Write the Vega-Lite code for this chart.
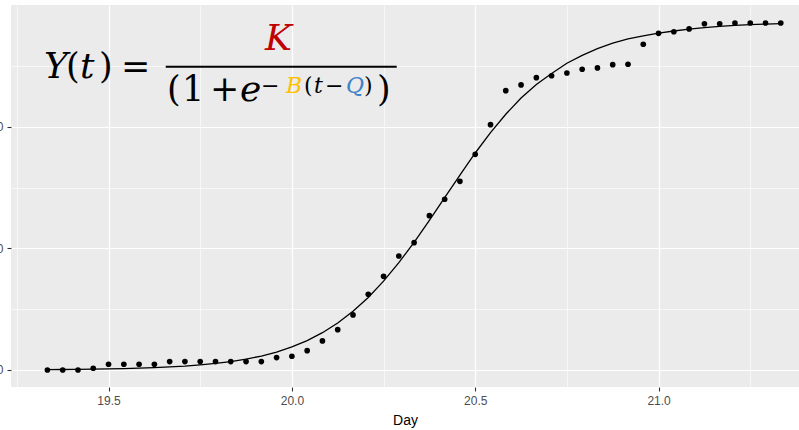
{
  "$schema": "https://vega.github.io/schema/vega-lite/v6.json",
  "width": 788,
  "height": 382,
  "autosize": {"type": "none"},
  "padding": {"left": 11, "top": 5, "right": 0, "bottom": 43},
  "background": "white",
  "config": {
    "view": {"fill": "#EBEBEB", "stroke": null},
    "axis": {
      "domain": false,
      "tickColor": "#333333",
      "tickSize": 4,
      "tickWidth": 1.1,
      "labelColor": "#4D4D4D",
      "labelFont": "Liberation Sans",
      "labelFontSize": 12,
      "titleFont": "Liberation Sans",
      "titleFontSize": 14,
      "titleFontWeight": "normal",
      "titleColor": "#000000",
      "gridColor": "#FFFFFF"
    }
  },
  "datasets": {
    "obs": [
      {"day": 19.3333, "count": 0.0, "fit": 0.3},
      {"day": 19.375, "count": 0.0, "fit": 0.4},
      {"day": 19.4167, "count": 0.0, "fit": 0.5},
      {"day": 19.4583, "count": 1.4, "fit": 0.7},
      {"day": 19.5, "count": 4.7, "fit": 0.9},
      {"day": 19.5417, "count": 4.7, "fit": 1.1},
      {"day": 19.5833, "count": 4.7, "fit": 1.5},
      {"day": 19.625, "count": 4.7, "fit": 1.9},
      {"day": 19.6667, "count": 6.9, "fit": 2.5},
      {"day": 19.7083, "count": 6.9, "fit": 3.2},
      {"day": 19.75, "count": 6.9, "fit": 4.2},
      {"day": 19.7917, "count": 6.9, "fit": 5.4},
      {"day": 19.8333, "count": 6.9, "fit": 6.9},
      {"day": 19.875, "count": 6.9, "fit": 9.0},
      {"day": 19.9167, "count": 6.9, "fit": 11.5},
      {"day": 19.9583, "count": 10.2, "fit": 14.8},
      {"day": 20.0, "count": 11.3, "fit": 19.0},
      {"day": 20.0417, "count": 15.9, "fit": 24.2},
      {"day": 20.0833, "count": 23.9, "fit": 30.7},
      {"day": 20.125, "count": 33.2, "fit": 38.6},
      {"day": 20.1667, "count": 45.3, "fit": 48.3},
      {"day": 20.2083, "count": 62.3, "fit": 59.7},
      {"day": 20.25, "count": 77.1, "fit": 73.1},
      {"day": 20.2917, "count": 93.8, "fit": 88.3},
      {"day": 20.3333, "count": 104.8, "fit": 105.1},
      {"day": 20.375, "count": 127.0, "fit": 123.1},
      {"day": 20.4167, "count": 140.5, "fit": 141.8},
      {"day": 20.4583, "count": 155.3, "fit": 160.4},
      {"day": 20.5, "count": 177.5, "fit": 178.6},
      {"day": 20.5417, "count": 201.9, "fit": 195.3},
      {"day": 20.5833, "count": 229.9, "fit": 210.5},
      {"day": 20.625, "count": 234.6, "fit": 223.8},
      {"day": 20.6667, "count": 240.6, "fit": 235.0},
      {"day": 20.7083, "count": 242.2, "fit": 244.0},
      {"day": 20.75, "count": 244.4, "fit": 252.5},
      {"day": 20.7917, "count": 247.5, "fit": 259.0},
      {"day": 20.8333, "count": 248.6, "fit": 264.5},
      {"day": 20.875, "count": 251.3, "fit": 269.0},
      {"day": 20.9167, "count": 251.6, "fit": 272.5},
      {"day": 20.9583, "count": 268.1, "fit": 275.0},
      {"day": 21.0, "count": 277.1, "fit": 277.2},
      {"day": 21.0417, "count": 278.4, "fit": 279.0},
      {"day": 21.0833, "count": 280.7, "fit": 280.5},
      {"day": 21.125, "count": 285.0, "fit": 281.8},
      {"day": 21.1667, "count": 285.0, "fit": 282.8},
      {"day": 21.2083, "count": 285.6, "fit": 283.6},
      {"day": 21.25, "count": 285.6, "fit": 284.2},
      {"day": 21.2917, "count": 285.6, "fit": 284.7},
      {"day": 21.3333, "count": 285.6, "fit": 285.0}
    ],
    "bigItalic": [
      {"day": 19.3241, "val": 240.3, "t": "Y", "term": "o"},
      {"day": 19.4223, "val": 240.3, "t": "t", "term": "o"},
      {"day": 19.9268, "val": 263.4, "t": "K", "term": "K"},
      {"day": 19.8586, "val": 221.4, "t": "e", "term": "o"}
    ],
    "bigUpright": [
      {"day": 19.3841, "val": 240.3, "t": "("},
      {"day": 19.474, "val": 240.3, "t": ")"},
      {"day": 19.5341, "val": 240.3, "t": "="},
      {"day": 19.6596, "val": 221.4, "t": "("},
      {"day": 19.7005, "val": 221.4, "t": "1"},
      {"day": 19.7768, "val": 221.4, "t": "+"},
      {"day": 20.2322, "val": 221.4, "t": ")"}
    ],
    "supItalic": [
      {"day": 19.984, "val": 228.0, "t": "B", "term": "B"},
      {"day": 20.0604, "val": 228.0, "t": "t", "term": "o"},
      {"day": 20.1477, "val": 228.0, "t": "Q", "term": "Q"}
    ],
    "supUpright": [
      {"day": 19.9159, "val": 228.0, "t": "−"},
      {"day": 20.0332, "val": 228.0, "t": "("},
      {"day": 20.0904, "val": 228.0, "t": "−"},
      {"day": 20.1968, "val": 228.0, "t": ")"}
    ],
    "bar": [
      {"day": 19.656, "day2": 20.2859, "val": 249.6}
    ]
  },
  "layer": [
    {
      "data": {"name": "obs"},
      "mark": {"type": "line", "color": "#000000", "strokeWidth": 1.3},
      "encoding": {
        "x": {
          "field": "day", "type": "quantitative",
          "scale": {"domain": [19.234, 21.383], "nice": false, "zero": false},
          "axis": {"orient": "top", "values": [19.25, 19.75, 20.25, 20.75, 21.25], "grid": true, "gridWidth": 0.6, "ticks": false, "labels": false, "domain": false, "title": null}
        },
        "y": {
          "field": "fit", "type": "quantitative",
          "scale": {"domain": [-14.0, 300.4], "nice": false, "zero": false},
          "axis": {"orient": "right", "values": [50, 150, 250], "grid": true, "gridWidth": 0.6, "ticks": false, "labels": false, "domain": false, "title": null}
        }
      }
    },
    {
      "data": {"name": "obs"},
      "mark": {"type": "point", "filled": true, "color": "#000000", "size": 32, "opacity": 1},
      "encoding": {
        "x": {
          "field": "day", "type": "quantitative",
          "scale": {"domain": [19.234, 21.383], "nice": false, "zero": false},
          "axis": {"orient": "bottom", "values": [19.5, 20.0, 20.5, 21.0], "format": ".1f", "grid": true, "gridWidth": 1.2, "labelPadding": 4, "title": "Day", "titlePadding": 7}
        },
        "y": {
          "field": "count", "type": "quantitative",
          "scale": {"domain": [-14.0, 300.4], "nice": false, "zero": false},
          "axis": {"orient": "left", "values": [0, 100, 200], "grid": true, "gridWidth": 1.2, "labelPadding": 4, "title": null}
        }
      }
    },
    {
      "data": {"name": "bar"},
      "mark": {"type": "rule", "color": "#000000", "strokeWidth": 2},
      "encoding": {
        "x": {"field": "day", "type": "quantitative", "axis": null, "scale": {"domain": [19.234, 21.383], "nice": false, "zero": false}},
        "x2": {"field": "day2"},
        "y": {"field": "val", "type": "quantitative", "axis": null, "scale": {"domain": [-14.0, 300.4], "nice": false, "zero": false}}
      }
    },
    {
      "data": {"name": "bigItalic"},
      "mark": {"type": "text", "font": "DejaVu Serif", "fontStyle": "italic", "fontSize": 36, "align": "left", "baseline": "alphabetic"},
      "encoding": {
        "x": {"field": "day", "type": "quantitative", "axis": null, "scale": {"domain": [19.234, 21.383], "nice": false, "zero": false}},
        "y": {"field": "val", "type": "quantitative", "axis": null, "scale": {"domain": [-14.0, 300.4], "nice": false, "zero": false}},
        "text": {"field": "t"},
        "color": {"field": "term", "type": "nominal", "legend": null, "scale": {"domain": ["K", "B", "Q", "o"], "range": ["#C00000", "#FFC000", "#3E82C8", "#000000"]}}
      }
    },
    {
      "data": {"name": "bigUpright"},
      "mark": {"type": "text", "font": "DejaVu Serif", "fontSize": 35, "align": "left", "baseline": "alphabetic", "color": "#000000"},
      "encoding": {
        "x": {"field": "day", "type": "quantitative", "axis": null, "scale": {"domain": [19.234, 21.383], "nice": false, "zero": false}},
        "y": {"field": "val", "type": "quantitative", "axis": null, "scale": {"domain": [-14.0, 300.4], "nice": false, "zero": false}},
        "text": {"field": "t"}
      }
    },
    {
      "data": {"name": "supItalic"},
      "mark": {"type": "text", "font": "DejaVu Serif", "fontStyle": "italic", "fontSize": 22, "align": "left", "baseline": "alphabetic"},
      "encoding": {
        "x": {"field": "day", "type": "quantitative", "axis": null, "scale": {"domain": [19.234, 21.383], "nice": false, "zero": false}},
        "y": {"field": "val", "type": "quantitative", "axis": null, "scale": {"domain": [-14.0, 300.4], "nice": false, "zero": false}},
        "text": {"field": "t"},
        "color": {"field": "term", "type": "nominal", "legend": null, "scale": {"domain": ["K", "B", "Q", "o"], "range": ["#C00000", "#FFC000", "#3E82C8", "#000000"]}}
      }
    },
    {
      "data": {"name": "supUpright"},
      "mark": {"type": "text", "font": "DejaVu Serif", "fontSize": 22, "align": "left", "baseline": "alphabetic", "color": "#000000"},
      "encoding": {
        "x": {"field": "day", "type": "quantitative", "axis": null, "scale": {"domain": [19.234, 21.383], "nice": false, "zero": false}},
        "y": {"field": "val", "type": "quantitative", "axis": null, "scale": {"domain": [-14.0, 300.4], "nice": false, "zero": false}},
        "text": {"field": "t"}
      }
    }
  ],
  "resolve": {"axis": {"x": "independent", "y": "independent"}}
}
